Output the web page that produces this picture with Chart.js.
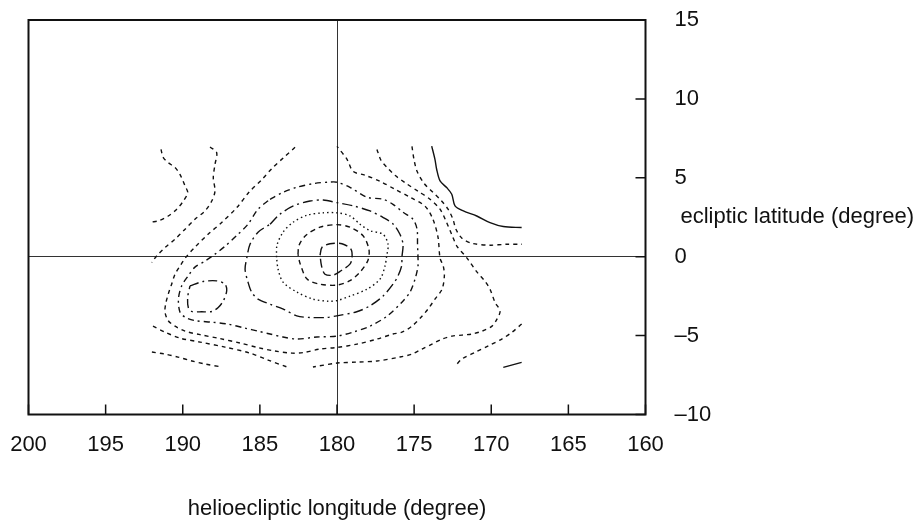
<!DOCTYPE html>
<html>
<head>
<meta charset="utf-8">
<script src="https://cdn.jsdelivr.net/npm/chart.js@4.4.1/dist/chart.umd.min.js"></script>
<style>
  html, body { margin: 0; padding: 0; background: #fff; }
  canvas { display: block; }
</style>
</head>
<body>
<canvas id="contourChart" width="920" height="526"></canvas>
<script>
// axis ticks (degrees)
const lonTicks = [200, 195, 190, 185, 180, 175, 170, 165, 160];
const latTicks = [15, 10, 5, 0, -5, -10];

// contour lines: longitude / latitude pairs
const lonA = [191.41, 191.26, 190.94, 190.50, 190.18, 189.85, 189.68, 189.96, 190.39, 190.94, 191.59, 192.01];
const latA = [6.80, 6.28, 5.96, 5.65, 5.22, 4.48, 4.06, 3.53, 3.01, 2.58, 2.27, 2.20];

const lonB = [188.23, 187.80, 187.91, 188.02, 187.91, 188.12, 188.56, 189.21, 189.85, 190.50, 191.15, 191.69, 192.01];
const latB = [6.95, 6.59, 5.85, 5.01, 4.16, 3.53, 2.90, 2.37, 1.74, 1.11, 0.58, 0.05, -0.37];

const lonC = [182.72, 183.44, 184.21, 184.86, 185.71, 186.48, 187.46, 188.36, 189.21, 189.79, 190.18, 190.50, 190.72, 190.94, 191.11, 191.15, 190.94, 190.50, 189.85, 188.88, 187.59, 186.29, 185.12, 184.02, 182.92, 182.20, 181.10, 180.00, 178.70, 177.41, 176.37, 175.79, 175.14, 174.49, 174.10, 173.65, 173.19, 173.04, 173.11, 173.32, 173.45, 173.78, 174.29, 175.27, 176.24, 177.21, 178.18, 178.96, 179.35, 180.00];
const latC = [6.93, 6.30, 5.60, 4.90, 4.08, 3.13, 2.18, 1.42, 0.60, -0.03, -0.60, -1.11, -1.74, -2.37, -3.01, -3.51, -4.06, -4.40, -4.72, -4.94, -5.19, -5.47, -5.76, -5.98, -6.11, -6.08, -5.85, -5.75, -5.54, -5.22, -4.90, -4.78, -4.40, -3.77, -3.32, -2.69, -2.06, -1.23, -0.60, -0.09, 1.23, 2.37, 3.20, 3.77, 4.27, 4.78, 5.16, 5.41, 6.17, 6.99];

const lonR2 = [177.41, 177.15, 176.76, 176.24, 175.53, 174.75, 173.97, 173.32, 172.93, 172.54, 172.22, 171.57, 170.92, 170.41, 170.08, 169.76, 169.43, 169.63, 169.95, 170.60, 171.25, 171.90, 172.54, 173.19, 173.84, 174.49, 175.14, 175.92, 177.41, 178.70, 180.00, 181.56];
const latR2 = [6.80, 6.11, 5.66, 5.16, 4.65, 4.15, 3.64, 3.01, 2.25, 1.36, 0.66, -0.09, -0.98, -1.55, -2.06, -2.88, -3.45, -3.96, -4.40, -4.72, -4.90, -4.97, -5.03, -5.22, -5.54, -5.85, -6.17, -6.36, -6.61, -6.68, -6.74, -6.99];

const lonR3 = [175.14, 175.01, 174.81, 174.36, 173.78, 173.26, 172.80, 172.48, 172.29, 171.90, 171.25, 170.08, 168.98, 168.01];
const latR3 = [6.99, 6.17, 5.41, 4.65, 4.08, 3.58, 3.01, 2.37, 1.74, 1.17, 0.85, 0.73, 0.79, 0.79];

const lonS1 = [173.86, 173.65, 173.54, 173.32, 172.89, 172.56, 172.35, 171.81, 170.94, 170.08, 169.22, 168.03];
const latS1 = [7.01, 6.17, 5.54, 4.80, 4.38, 3.96, 3.22, 2.90, 2.58, 2.16, 1.91, 1.85];

const lonD = [168.03, 168.67, 169.32, 170.19, 171.05, 171.91, 172.35];
const latD = [-4.27, -4.80, -5.22, -5.65, -6.06, -6.49, -6.95];

const lonS2 = [169.22, 168.03];
const latS2 = [-7.01, -6.70];

const lonX = [191.93, 191.15, 190.18, 188.88, 187.26, 185.64, 184.47, 183.24];
const latX = [-4.40, -4.78, -5.16, -5.41, -5.73, -6.11, -6.55, -6.99];

const lonY = [192.00, 191.15, 190.31, 189.40, 188.56, 187.46];
const latY = [-6.04, -6.17, -6.36, -6.61, -6.80, -6.99];

// secondary peak
const lonP = [189.53, 188.67, 187.80, 187.26, 187.15, 187.37, 187.70, 188.12, 188.77, 189.42, 189.64, 189.68];
const latP = [-1.85, -1.57, -1.53, -1.74, -2.16, -2.80, -3.22, -3.47, -3.49, -3.47, -3.22, -2.58];

// closed contours round the main peak, outer to inner
const lonL5 = [184.34, 183.50, 182.59, 181.43, 180.45, 180.00, 179.16, 178.06, 177.02, 176.37, 175.72, 175.07, 174.81, 174.78, 174.75, 174.75, 174.94, 175.27, 175.79, 176.76, 177.86, 178.96, 180.00, 181.30, 182.59, 183.50, 184.34, 185.12, 185.96, 187.07, 188.10, 189.21, 189.85, 190.18, 190.28, 190.08, 189.66, 189.21, 188.56, 187.91, 187.26, 186.48, 185.77, 185.12];
const latL5 = [3.64, 4.08, 4.40, 4.65, 4.73, 4.72, 4.40, 3.77, 3.64, 3.32, 2.82, 2.37, 1.74, 0.79, -0.03, -0.60, -1.42, -2.25, -2.88, -3.77, -4.40, -4.78, -5.03, -5.09, -5.22, -5.09, -4.90, -4.72, -4.53, -4.27, -4.15, -4.05, -3.83, -3.51, -2.69, -1.87, -1.23, -0.66, -0.28, 0.16, 0.66, 1.36, 2.06, 3.01];

const lonL4 = [184.34, 183.70, 182.83, 181.75, 180.89, 180.02, 178.94, 177.86, 177.00, 176.35, 175.92, 175.72, 175.79, 175.81, 176.05, 176.37, 177.02, 177.86, 178.72, 180.02, 180.67, 181.75, 182.61, 183.48, 184.34, 185.12, 185.53, 185.77, 185.96, 185.85, 185.64, 185.12];
const latL4 = [2.06, 2.69, 3.22, 3.53, 3.59, 3.43, 3.22, 2.90, 2.48, 2.06, 1.42, 0.79, -0.03, -0.58, -1.23, -1.74, -2.50, -3.11, -3.49, -3.75, -3.85, -3.85, -3.75, -3.32, -3.01, -2.69, -2.25, -1.61, -0.79, -0.09, 0.79, 1.55];

const lonL3 = [183.92, 183.89, 183.50, 182.85, 181.94, 180.91, 180.00, 179.16, 178.51, 177.86, 177.02, 176.69, 176.79, 176.89, 177.21, 178.06, 179.16, 180.00, 180.58, 181.56, 182.59, 183.50, 183.82];
const latL3 = [-0.03, 0.73, 1.55, 2.18, 2.63, 2.78, 2.78, 2.59, 2.06, 1.65, 1.42, 0.79, -0.03, -0.60, -1.42, -2.06, -2.50, -2.78, -2.82, -2.69, -2.25, -1.61, -0.79];

const lonL2 = [182.53, 182.46, 182.01, 181.10, 180.00, 179.16, 178.31, 177.93, 177.99, 178.51, 179.16, 180.00, 181.10, 181.94, 182.40];
const latL2 = [0.16, 0.73, 1.36, 1.87, 2.03, 1.87, 1.33, 0.47, -0.22, -0.98, -1.52, -1.80, -1.74, -1.42, -0.41];

const lonL1 = [181.10, 180.97, 180.45, 179.68, 179.09, 179.03, 179.16, 179.74, 180.26, 180.78, 181.00];
const latL1 = [0.09, 0.60, 0.82, 0.82, 0.47, -0.09, -0.47, -0.89, -1.17, -1.11, -0.60];

const dashed = [4, 4];
const contours = [
  { lon: lonA, lat: latA, dash: dashed },
  { lon: lonB, lat: latB, dash: dashed },
  { lon: lonC, lat: latC, dash: dashed },
  { lon: lonR2, lat: latR2, dash: dashed },
  { lon: lonR3, lat: latR3, dash: dashed },
  { lon: lonD, lat: latD, dash: dashed },
  { lon: lonX, lat: latX, dash: dashed },
  { lon: lonY, lat: latY, dash: dashed },
  { lon: lonS1, lat: latS1, dash: [] },
  { lon: lonS2, lat: latS2, dash: [] },
  { lon: lonP, lat: latP, dash: [9, 4, 2, 4], closed: true },
  { lon: lonL5, lat: latL5, dash: [6, 4, 2, 4], closed: true },
  { lon: lonL4, lat: latL4, dash: [10, 4, 2, 4], closed: true },
  { lon: lonL3, lat: latL3, dash: [1.5, 3], closed: true },
  { lon: lonL2, lat: latL2, dash: [5, 4], closed: true },
  { lon: lonL1, lat: latL1, dash: [9, 4], closed: true }
];

const datasets = contours.map(c => {
  const pts = c.lon.map((x, i) => ({ x: x, y: c.lat[i] }));
  if (c.closed) pts.push(pts[0]);
  return {
    data: pts,
    showLine: true,
    borderColor: '#111',
    borderWidth: 1.4,
    borderDash: c.dash,
    pointRadius: 0,
    tension: 0.3,
    fill: false
  };
});

// frame, inward ticks and the horizontal latitude title
const frameAndTicks = {
  id: 'frameAndTicks',
  afterDraw(chart) {
    const { ctx, chartArea: a, scales: { x, y } } = chart;
    ctx.save();
    ctx.strokeStyle = '#111';
    ctx.lineWidth = 1.5;
    ctx.beginPath();
    lonTicks.forEach(v => {
      const px = x.getPixelForValue(v);
      ctx.moveTo(px, a.bottom);
      ctx.lineTo(px, a.bottom - 10);
    });
    latTicks.forEach(v => {
      const py = y.getPixelForValue(v);
      ctx.moveTo(a.right, py);
      ctx.lineTo(a.right - 10, py);
    });
    ctx.stroke();
    ctx.lineWidth = 2;
    ctx.strokeRect(a.left, a.top, a.right - a.left, a.bottom - a.top);
    ctx.font = '22px "Liberation Sans", Arial, sans-serif';
    ctx.fillStyle = '#111';
    ctx.textBaseline = 'middle';
    ctx.textAlign = 'left';
    ctx.fillText('ecliptic latitude (degree)', a.right + 35, y.getPixelForValue(2.5));
    ctx.restore();
  }
};

// no extra room for overhanging labels: keep the plot box where it is
function noLabelPadding(scale) {
  scale.paddingTop = 0;
  scale.paddingBottom = 0;
  scale.paddingLeft = 0;
  scale.paddingRight = 0;
}

Chart.defaults.font.family = '"Liberation Sans", Arial, sans-serif';
Chart.defaults.font.size = 22;
Chart.defaults.color = '#111';

const contourChart = new Chart(document.getElementById('contourChart'), {
  type: 'scatter',
  data: { datasets: datasets },
  options: {
    responsive: false,
    animation: false,
    events: [],
    layout: { padding: { left: 28.5, top: 20, right: 0, bottom: 0 } },
    plugins: {
      legend: { display: false },
      tooltip: { enabled: false }
    },
    scales: {
      x: {
        type: 'linear',
        reverse: true,
        min: 160,
        max: 200,
        afterBuildTicks: scale => { scale.ticks = lonTicks.map(v => ({ value: v })); },
        afterFit: scale => { scale.height = 111.5; noLabelPadding(scale); },
        ticks: { padding: 17, maxRotation: 0, autoSkip: false },
        grid: {
          drawTicks: false,
          lineWidth: 1,
          color: c => (c.tick && c.tick.value === 180) ? '#333' : 'rgba(0,0,0,0)'
        },
        border: { display: false },
        title: {
          display: true,
          text: 'helioecliptic longitude (degree)',
          padding: { top: 0, bottom: 4 }
        }
      },
      y: {
        type: 'linear',
        position: 'right',
        min: -10,
        max: 15,
        afterBuildTicks: scale => { scale.ticks = latTicks.map(v => ({ value: v })); },
        afterFit: scale => { scale.width = 274.5; noLabelPadding(scale); },
        ticks: {
          padding: 29,
          autoSkip: false,
          callback: v => v < 0 ? '\u2013' + Math.abs(v) : String(v)
        },
        grid: {
          drawTicks: false,
          lineWidth: 1,
          color: c => (c.tick && c.tick.value === 0) ? '#333' : 'rgba(0,0,0,0)'
        },
        border: { display: false }
      }
    }
  },
  plugins: [frameAndTicks]
});
</script>
</body>
</html>
